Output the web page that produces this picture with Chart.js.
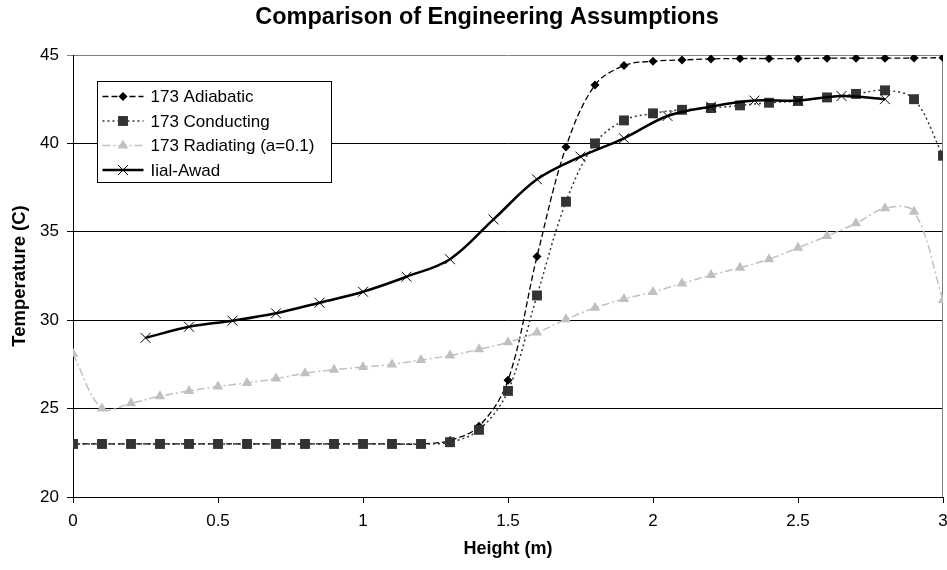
<!DOCTYPE html>
<html>
<head>
<meta charset="utf-8">
<title>Comparison of Engineering Assumptions</title>
<script src="https://cdn.jsdelivr.net/npm/chart.js@4/dist/chart.umd.min.js"></script>
<style>
  html, body { margin: 0; padding: 0; background: #fff; overflow: hidden; }
  canvas { display: block; }
</style>
</head>
<body>
<canvas id="tempChart" width="947" height="570"></canvas>
<script>
// Alturas de medición (m) y temperaturas (C) de cada hipótesis
const heights = [0, 0.1, 0.2, 0.3, 0.4, 0.5, 0.6, 0.7, 0.8, 0.9, 1.0,
                 1.1, 1.2, 1.3, 1.4, 1.5, 1.6, 1.7, 1.8, 1.9, 2.0,
                 2.1, 2.2, 2.3, 2.4, 2.5, 2.6, 2.7, 2.8, 2.9, 3.0];
const adiabatic = [23, 23, 23, 23, 23, 23, 23, 23, 23, 23, 23,
                   23, 23, 23.2, 24.0, 26.6, 33.6, 39.8, 43.3, 44.4, 44.65,
                   44.72, 44.78, 44.8, 44.8, 44.8, 44.82, 44.82, 44.82, 44.83, 44.85];
const conducting = [23, 23, 23, 23, 23, 23, 23, 23, 23, 23, 23,
                    23, 23, 23.1, 23.8, 26.0, 31.4, 36.7, 40.0, 41.3, 41.7,
                    41.9, 42.0, 42.15, 42.3, 42.4, 42.6, 42.8, 43.0, 42.5, 39.3];
const radiating = [28.1, 25.0, 25.3, 25.7, 26.0, 26.25, 26.45, 26.7, 27.0, 27.2, 27.35,
                   27.5, 27.75, 28.0, 28.35, 28.75, 29.3, 30.05, 30.7, 31.2, 31.6,
                   32.08, 32.55, 32.97, 33.45, 34.1, 34.76, 35.48, 36.33, 36.14, 31.14];
const ilalHeights = [0.25, 0.4, 0.55, 0.7, 0.85, 1.0, 1.15, 1.3, 1.45,
                     1.6, 1.75, 1.9, 2.05, 2.2, 2.35, 2.5, 2.65, 2.8];
const ilalAwad = [29.0, 29.63, 29.97, 30.39, 30.99, 31.61, 32.46, 33.45, 35.7,
                  37.97, 39.25, 40.29, 41.55, 42.08, 42.42, 42.42, 42.68, 42.5];
const seriesNames = ['173 Adiabatic', '173 Conducting', '173 Radiating (a=0.1)', 'Iial-Awad'];
const yTicks = [20, 25, 30, 35, 40, 45];
const chartTitle = 'Comparison of Engineering Assumptions';

const FONT = '"Liberation Sans", Arial, sans-serif';

function toPoints(xs, ys) {
    return ys.map((y, i) => ({ x: xs[i], y: y }));
}

// Dibuja un marcador con la misma forma que usa la serie
function drawMarker(ctx, style, x, y, r, fill, stroke) {
    ctx.save();
    ctx.fillStyle = fill;
    ctx.strokeStyle = stroke;
    ctx.lineWidth = 1;
    ctx.setLineDash([]);
    ctx.beginPath();
    if (style === 'rectRot') {
        ctx.moveTo(x, y - r); ctx.lineTo(x + r, y); ctx.lineTo(x, y + r); ctx.lineTo(x - r, y);
        ctx.closePath(); ctx.fill();
    } else if (style === 'rect') {
        const s = r * Math.SQRT1_2;
        ctx.rect(x - s, y - s, 2 * s, 2 * s); ctx.fill();
    } else if (style === 'triangle') {
        ctx.moveTo(x, y - r); ctx.lineTo(x + r * 0.866, y + r / 2); ctx.lineTo(x - r * 0.866, y + r / 2);
        ctx.closePath(); ctx.fill();
    } else if (style === 'crossRot') {
        const s = r * Math.SQRT1_2;
        ctx.moveTo(x - s, y - s); ctx.lineTo(x + s, y + s);
        ctx.moveTo(x + s, y - s); ctx.lineTo(x - s, y + s);
        ctx.stroke();
    }
    ctx.restore();
}

// Leyenda con muestra de línea y marcador, dibujada encima del área del gráfico
const boxLegend = {
    id: 'boxLegend',
    afterDatasetsDraw(chart) {
        const ctx = chart.ctx;
        const left = 97.5, top = 81.5, w = 234, h = 101;
        ctx.save();
        ctx.fillStyle = '#fff';
        ctx.fillRect(left, top, w, h);
        ctx.strokeStyle = '#000';
        ctx.lineWidth = 1;
        ctx.strokeRect(left, top, w, h);
        chart.data.datasets.forEach((ds, i) => {
            const y = top + 15 + i * 24.5;
            ctx.save();
            ctx.strokeStyle = ds.borderColor;
            ctx.lineWidth = ds.borderWidth;
            ctx.setLineDash(ds.borderDash || []);
            ctx.beginPath();
            ctx.moveTo(left + 5, y);
            ctx.lineTo(left + 46, y);
            ctx.stroke();
            ctx.restore();
            drawMarker(ctx, ds.pointStyle, left + 25.5, y, ds.pointRadius,
                       ds.pointBackgroundColor, ds.pointBorderColor);
            ctx.fillStyle = '#000';
            ctx.font = '17px ' + FONT;
            ctx.textBaseline = 'middle';
            ctx.textAlign = 'left';
            ctx.fillText(ds.label, left + 53, y + 1);
        });
        ctx.restore();
    }
};

// Título centrado sobre todo el gráfico (el hueco lo deja layout.padding.top)
const topTitle = {
    id: 'topTitle',
    afterDraw(chart) {
        const ctx = chart.ctx;
        ctx.save();
        ctx.fillStyle = '#000';
        ctx.font = 'bold 23.5px ' + FONT;
        ctx.textAlign = 'center';
        ctx.textBaseline = 'alphabetic';
        ctx.fillText(chartTitle, 487, 24);
        ctx.restore();
    }
};

// El área de trazado llega casi al borde derecho; el rótulo "3" puede quedar cortado
const wideArea = {
    id: 'wideArea',
    afterLayout(chart) {
        const x = chart.scales.x;
        const right = chart.width - 4;
        x.right = right;
        x.width = right - x.left;
        x.configure();
        chart.chartArea.right = right;
        chart.chartArea.width = right - chart.chartArea.left;
    }
};

// Borde derecho gris del área de trazado
const plotFrame = {
    id: 'plotFrame',
    beforeDatasetsDraw(chart) {
        const a = chart.chartArea;
        const ctx = chart.ctx;
        ctx.save();
        ctx.strokeStyle = '#808080';
        ctx.lineWidth = 1;
        ctx.beginPath();
        ctx.moveTo(Math.round(a.right) - 0.5, a.top);
        ctx.lineTo(Math.round(a.right) - 0.5, a.bottom);
        ctx.stroke();
        ctx.restore();
    }
};

const ctx = document.getElementById('tempChart').getContext('2d');
new Chart(ctx, {
    type: 'line',
    data: {
        datasets: [
            {
                label: seriesNames[0],
                data: toPoints(heights, adiabatic),
                borderColor: '#000',
                borderWidth: 1.3,
                borderDash: [6, 3],
                pointStyle: 'rectRot',
                pointRadius: 4.5,
                pointBackgroundColor: '#000',
                pointBorderColor: '#000',
                pointBorderWidth: 0,
                tension: 0.35,
                order: 4
            },
            {
                label: seriesNames[1],
                data: toPoints(heights, conducting),
                borderColor: '#333',
                borderWidth: 1.5,
                borderDash: [2, 3],
                pointStyle: 'rect',
                pointRadius: 7,
                pointBackgroundColor: '#333',
                pointBorderColor: '#333',
                pointBorderWidth: 0,
                tension: 0.35,
                order: 3
            },
            {
                label: seriesNames[2],
                data: toPoints(heights, radiating),
                borderColor: '#c0c0c0',
                borderWidth: 1.5,
                borderDash: [8, 3, 2, 3],
                pointStyle: 'triangle',
                pointRadius: 6,
                pointBackgroundColor: '#c0c0c0',
                pointBorderColor: '#c0c0c0',
                pointBorderWidth: 0,
                tension: 0.35,
                order: 2
            },
            {
                label: seriesNames[3],
                data: toPoints(ilalHeights, ilalAwad),
                borderColor: '#000',
                borderWidth: 2.5,
                pointStyle: 'crossRot',
                pointRadius: 7,
                pointBackgroundColor: '#000',
                pointBorderColor: '#000',
                pointBorderWidth: 1,
                tension: 0.35,
                order: 1
            }
        ]
    },
    options: {
        responsive: false,
        animation: false,
        layout: { padding: { left: 0, right: 0, top: 55, bottom: 0 } },
        plugins: {
            legend: { display: false },
            tooltip: { enabled: false },
            title: { display: false }
        },
        scales: {
            x: {
                type: 'linear',
                min: 0,
                max: 3,
                afterFit(scale) { scale.height = 73; },
                ticks: {
                    stepSize: 0.5,
                    color: '#000',
                    padding: 8,
                    maxRotation: 0,
                    font: { family: FONT, size: 17 },
                    callback: v => String(Number(v))
                },
                grid: { drawOnChartArea: false, drawTicks: true, tickLength: 6, color: '#000' },
                border: { color: '#000', width: 1 },
                title: {
                    display: true,
                    text: 'Height (m)',
                    color: '#000',
                    font: { family: FONT, size: 18, weight: 'bold' },
                    padding: { top: 4, bottom: 10 }
                }
            },
            y: {
                min: yTicks[0],
                max: yTicks[yTicks.length - 1],
                afterFit(scale) {
                    scale.width = 73;
                    scale.paddingTop = 0;
                },
                afterBuildTicks(scale) { scale.ticks = yTicks.map(v => ({ value: v })); },
                ticks: {
                    color: '#000',
                    padding: 8,
                    font: { family: FONT, size: 17 }
                },
                grid: {
                    tickLength: 6,
                    color: c => (c.tick && c.tick.value === 45 ? '#808080' : '#000'),
                    lineWidth: 1
                },
                border: { color: '#000', width: 1 },
                title: {
                    display: true,
                    text: 'Temperature (C)',
                    color: '#000',
                    font: { family: FONT, size: 18.5, weight: 'bold' },
                    padding: { top: 9, bottom: 0 }
                }
            }
        }
    },
    plugins: [wideArea, plotFrame, boxLegend, topTitle]
});
</script>
</body>
</html>
